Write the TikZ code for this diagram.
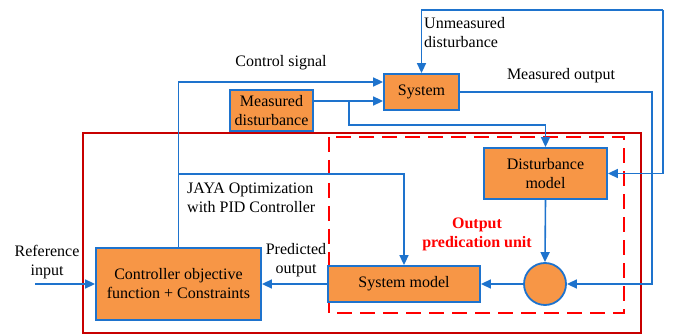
\documentclass[tikz,border=0pt]{standalone}
\usepackage{fontspec}
\setmainfont{Liberation Serif}
\newfontfamily\diagfont{Liberation Serif}
\usepackage{tikz}
\usetikzlibrary{positioning}
\usetikzlibrary{arrows.meta}
\usetikzlibrary{shapes}
\definecolor{lineblue}{RGB}{30,115,205}
\definecolor{boxorange}{RGB}{247,150,70}
\definecolor{darkred}{RGB}{200,0,0}

\begin{document}
\begin{tikzpicture}[x=1pt,y=-1pt,
  font=\diagfont\fontsize{16}{19}\selectfont,
  blk/.style={draw=lineblue,fill=boxorange,line width=1.8pt,align=center,inner sep=2pt},
  sig/.style={draw=lineblue,line width=1.6pt,-{Triangle[length=10pt,width=9pt]}},
  txt/.style={align=center,inner sep=0pt}]
\useasboundingbox (0,0) rectangle (677,336);
% frames
\draw[darkred,line width=2.2pt] (83,133) rectangle (641,333);
\draw[red,line width=2.6pt,dash pattern=on 15pt off 8pt] (329,137) rectangle (624,313);
% blocks
\node[blk,minimum width=165pt,minimum height=72pt] (ctrl) at (178.5,284) {Controller objective\\function + Constraints};
\node[blk,minimum width=152pt,minimum height=36pt] (sysm) at (404,284) {System model};
\node[blk,circle,minimum size=42pt,inner sep=0pt] (sum) at (545,284) {};
\node[blk,minimum width=123pt,minimum height=51pt] (dist) at (545.5,173.5) {Disturbance\\model};
\node[blk,minimum width=75pt,minimum height=36pt] (sys) at (421.5,92) {System};
\node[blk,minimum width=83pt,minimum height=41pt] (meas) at (271.5,110.5) {Measured\\disturbance};
% labels
\node[txt] (lctrl) at (281,63) {Control signal};
\node[txt,anchor=west,align=left] (lunm) at (424,33) {Unmeasured\\disturbance};
\node[txt] (lmo) at (561,76) {Measured output};
\node[txt,anchor=west,align=left] (ljaya) at (187,198) {JAYA Optimization\\with PID Controller};
\node[txt] (lpred) at (296,260) {Predicted\\output};
\node[txt] (lref) at (47,262) {Reference\\input};
\node[txt,text=red,font=\diagfont\fontsize{16}{19}\selectfont\bfseries] (lopu) at (477,234) {Output\\predication unit};
% signals
\coordinate (ref) at (35,284);
\coordinate (unm) at (663,10);
\coordinate (mo) at (652,92);
\coordinate (md) at (349,101);
\coordinate (mdj) at (349,125);
\coordinate (cs) at (178,174);
\draw[sig] (ctrl.north) |- ([yshift=10pt]sys.west);
\draw[sig] (cs) -| (sysm.north);
\draw[draw=lineblue,line width=1.6pt] (meas.east |- md) -- (md);
\draw[sig] (md) -- (md -| sys.west);
\draw[sig] (md) -- (mdj) -| (dist.north);
\draw[sig] (unm) -| (sys.north);
\draw[sig] (unm) |- (dist.east);
\draw[sig] (sys.east) -- (mo) |- (sum.east);
\draw[sig] (dist.south) -- (sum.north);
\draw[sig] (sum.west) -- (sysm.east);
\draw[sig] (sysm.west) -- (ctrl.east);
\draw[sig] (ref) -- (ctrl.west);
\end{tikzpicture}
\end{document}
